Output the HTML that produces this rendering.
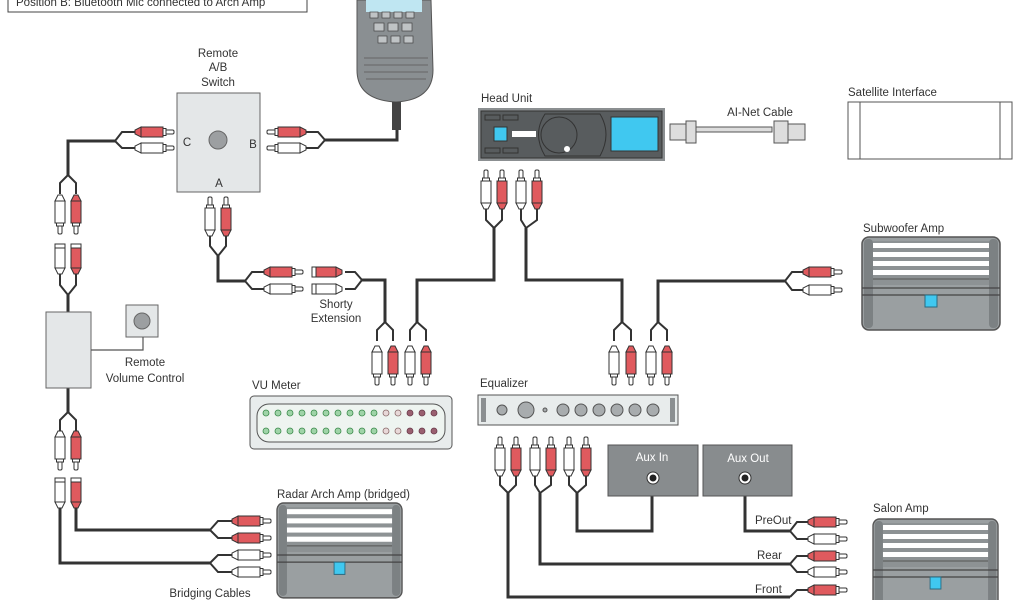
<!DOCTYPE html>
<html><head><meta charset="utf-8"><style>
html,body{margin:0;padding:0;background:#fff;}
svg{display:block;font-family:"Liberation Sans",sans-serif;}
text{fill:#333;font-size:11.5px;}
</style></head><body>
<svg width="1024" height="600" viewBox="0 0 1024 600" xmlns="http://www.w3.org/2000/svg">
<defs>
<symbol id="pu" overflow="visible">
 <rect x="-2" y="0" width="4" height="9" rx="1.5" fill="#fff" stroke="#333" stroke-width="1"/>
 <rect x="-3.5" y="8" width="7" height="3" fill="#fff" stroke="#333" stroke-width="1"/>
 <rect x="-5" y="11" width="10" height="22" stroke="#333" stroke-width="1"/>
 <polygon points="-5,33 5,33 2,39 -2,39" stroke="#333" stroke-width="1"/>
</symbol>
<symbol id="fu" overflow="visible">
 <rect x="-5" y="0" width="10" height="4" fill="#fff" stroke="#333" stroke-width="1"/>
 <rect x="-5" y="4" width="10" height="20" stroke="#333" stroke-width="1"/>
 <polygon points="-5,24 5,24 2,30 -2,30" stroke="#333" stroke-width="1"/>
</symbol>
<symbol id="amp" overflow="visible">
 <rect x="0" y="0" width="138" height="93" rx="7" fill="#9a9fa1" stroke="#555" stroke-width="1.5"/>
 <rect x="2" y="2" width="9" height="89" rx="4" fill="#7c8183"/>
 <rect x="127" y="2" width="9" height="89" rx="4" fill="#7c8183"/>
 <rect x="11" y="4" width="116" height="44" fill="#8d9294"/>
 <rect x="11" y="6" width="116" height="5" fill="#fff"/>
 <rect x="11" y="15" width="116" height="5" fill="#fff"/>
 <rect x="11" y="24" width="116" height="5" fill="#fff"/>
 <rect x="11" y="33" width="116" height="5" fill="#fff"/>
 <line x1="11" y1="42" x2="127" y2="42" stroke="#555" stroke-width="1"/>
 <line x1="0" y1="51" x2="138" y2="51" stroke="#444" stroke-width="1.2"/>
 <line x1="0" y1="58" x2="138" y2="58" stroke="#444" stroke-width="1.2"/>
 <rect x="63" y="58" width="12" height="12" fill="#40c8f0" stroke="#2a6a80" stroke-width="1"/>
</symbol>
</defs>

<rect x="8" y="-3" width="299" height="15" fill="#fff" stroke="#444" stroke-width="1"/>
<text x="16" y="6" font-size="12">Position B: Bluetooth Mic connected to Arch Amp</text>

<path d="M357,0 L431,0 L433,70 Q433,100 396,102 Q357,100 357,70 Z" fill="#8a8f92" stroke="#555"/>
<rect x="366" y="0" width="56" height="12" fill="#bfe6f2"/>
<g fill="#bfc3c5" stroke="#444" stroke-width="0.7">
<rect x="370" y="12" width="8" height="6"/><rect x="382" y="12" width="8" height="6"/><rect x="394" y="12" width="8" height="6"/><rect x="406" y="12" width="8" height="6"/>
<rect x="374" y="23" width="10" height="8"/><rect x="388" y="23" width="10" height="8"/><rect x="402" y="23" width="10" height="8"/>
<rect x="378" y="36" width="9" height="7"/><rect x="391" y="36" width="9" height="7"/><rect x="404" y="36" width="9" height="7"/>
</g>
<g stroke="#666" stroke-width="1"><line x1="364" y1="58" x2="428" y2="58"/><line x1="364" y1="65" x2="428" y2="65"/><line x1="364" y1="72" x2="428" y2="72"/><line x1="366" y1="79" x2="426" y2="79"/></g>
<rect x="392" y="102" width="9" height="28" fill="#444"/>
<g stroke="#333" stroke-width="3" fill="none">
<polyline points="397,130 397,140 325,140"/>
</g>

<text x="218" y="57" text-anchor="middle">Remote</text>
<text x="218" y="71" text-anchor="middle">A/B</text>
<text x="218" y="86" text-anchor="middle">Switch</text>
<rect x="177" y="93" width="83" height="99" fill="#e4e7e8" stroke="#666" stroke-width="1"/>
<circle cx="218" cy="140" r="9" fill="#9c9fa1" stroke="#666"/>
<text x="187" y="146" text-anchor="middle" font-size="12">C</text>
<text x="253" y="148" text-anchor="middle" font-size="12">B</text>
<text x="219" y="187" text-anchor="middle" font-size="12">A</text>

<g stroke="#333" stroke-width="3" fill="none" stroke-linejoin="miter">
<polyline points="115,141 68,141 68,175"/>
<polyline points="68,295 68,312"/>
<polyline points="68,388 68,412"/>
<polyline points="76,505 76,530 210,530"/>
<polyline points="60,505 60,563 210,563"/>
<polyline points="218,256 218,281 245,281"/>
<polyline points="362,280 385,280 385,322"/>
<polyline points="494,228 494,280 417,280 417,322"/>
<polyline points="526,228 526,280 622,280 622,322"/>
<polyline points="785,281 658,281 658,322"/>
<polyline points="508,493 508,597 790,597"/>
<polyline points="540,493 540,564 790,564"/>
<polyline points="577,493 577,531 652,531 652,496"/>
<polyline points="745,496 745,531 790,531"/>
</g>
<g stroke="#333" stroke-width="2" fill="none">
<polyline points="325,140 318,132 305,132"/><polyline points="325,140 318,148 305,148"/>
<polyline points="115,141 122,132 135,132"/><polyline points="115,141 122,148 135,148"/>
<polyline points="68,175 60,183 60,194"/><polyline points="68,175 76,183 76,194"/>
<polyline points="60,274 60,285 68,295"/><polyline points="76,274 76,285 68,295"/>
<polyline points="68,412 60,420 60,431"/><polyline points="68,412 76,420 76,431"/>
<polyline points="210,530 218,521 232,521"/><polyline points="210,530 218,538 232,538"/>
<polyline points="210,563 218,555 232,555"/><polyline points="210,563 218,572 232,572"/>
<polyline points="210,236 210,246 218,256"/><polyline points="226,236 226,246 218,256"/>
<polyline points="245,281 252,272 264,272"/><polyline points="245,281 252,289 264,289"/>
<polyline points="362,280 355,272 345,272"/><polyline points="362,280 355,289 345,289"/>
<polyline points="385,322 377,330 377,341"/><polyline points="385,322 393,330 393,341"/>
<polyline points="417,322 410,330 410,341"/><polyline points="417,322 426,330 426,341"/>
<polyline points="486,209 486,220 494,228"/><polyline points="502,209 502,220 494,228"/>
<polyline points="521,209 521,220 526,228"/><polyline points="537,209 537,220 526,228"/>
<polyline points="622,322 614,330 614,341"/><polyline points="622,322 631,330 631,341"/>
<polyline points="658,322 651,330 651,341"/><polyline points="658,322 667,330 667,341"/>
<polyline points="785,281 792,272 803,272"/><polyline points="785,281 792,290 803,290"/>
<polyline points="500,476 500,485 508,493"/><polyline points="516,476 516,485 508,493"/>
<polyline points="535,476 535,485 540,493"/><polyline points="551,476 551,485 540,493"/>
<polyline points="569,476 569,485 577,493"/><polyline points="586,476 586,485 577,493"/>
<polyline points="790,531 797,522 808,522"/><polyline points="790,531 797,539 808,539"/>
<polyline points="790,564 797,556 808,556"/><polyline points="790,564 797,572 808,572"/>
<polyline points="790,597 797,590 808,590"/>
</g>

<use href="#pu" transform="translate(267,132) rotate(-90)" fill="#e05a5e"/>
<use href="#pu" transform="translate(267,148) rotate(-90)" fill="#fff"/>
<use href="#pu" transform="translate(174,132) rotate(90)" fill="#e05a5e"/>
<use href="#pu" transform="translate(174,148) rotate(90)" fill="#fff"/>
<use href="#pu" transform="translate(60,234) rotate(180)" fill="#fff"/>
<use href="#pu" transform="translate(76,234) rotate(180)" fill="#e05a5e"/>
<use href="#fu" transform="translate(60,244)" fill="#fff"/>
<use href="#fu" transform="translate(76,244)" fill="#e05a5e"/>
<rect x="46" y="312" width="45" height="76" fill="#e4e7e8" stroke="#666"/>
<rect x="126" y="305" width="32" height="32" fill="#e4e7e8" stroke="#666"/>
<circle cx="142" cy="321" r="8" fill="#9c9fa1" stroke="#666"/>
<polyline points="91,350 143,350 143,337" stroke="#555" stroke-width="1.2" fill="none"/>
<text x="145" y="366" text-anchor="middle">Remote</text>
<text x="145" y="382" text-anchor="middle">Volume Control</text>
<use href="#pu" transform="translate(60,470) rotate(180)" fill="#fff"/>
<use href="#pu" transform="translate(76,470) rotate(180)" fill="#e05a5e"/>
<use href="#fu" transform="translate(60,478)" fill="#fff"/>
<use href="#fu" transform="translate(76,478)" fill="#e05a5e"/>
<use href="#pu" transform="translate(271,521) rotate(90)" fill="#e05a5e"/>
<use href="#pu" transform="translate(271,538) rotate(90)" fill="#e05a5e"/>
<use href="#pu" transform="translate(271,555) rotate(90)" fill="#fff"/>
<use href="#pu" transform="translate(271,572) rotate(90)" fill="#fff"/>
<use href="#pu" transform="translate(210,197)" fill="#fff"/>
<use href="#pu" transform="translate(226,197)" fill="#e05a5e"/>
<use href="#pu" transform="translate(303,272) rotate(90)" fill="#e05a5e"/>
<use href="#pu" transform="translate(303,289) rotate(90)" fill="#fff"/>
<use href="#fu" transform="translate(312,272) rotate(-90)" fill="#e05a5e"/>
<use href="#fu" transform="translate(312,289) rotate(-90)" fill="#fff"/>
<text x="336" y="308" text-anchor="middle">Shorty</text>
<text x="336" y="322" text-anchor="middle">Extension</text>
<use href="#pu" transform="translate(377,385) rotate(180)" fill="#fff"/>
<use href="#pu" transform="translate(393,385) rotate(180)" fill="#e05a5e"/>
<use href="#pu" transform="translate(410,385) rotate(180)" fill="#fff"/>
<use href="#pu" transform="translate(426,385) rotate(180)" fill="#e05a5e"/>
<use href="#pu" transform="translate(486,170)" fill="#fff"/>
<use href="#pu" transform="translate(502,170)" fill="#e05a5e"/>
<use href="#pu" transform="translate(521,170)" fill="#fff"/>
<use href="#pu" transform="translate(537,170)" fill="#e05a5e"/>
<use href="#pu" transform="translate(614,385) rotate(180)" fill="#fff"/>
<use href="#pu" transform="translate(631,385) rotate(180)" fill="#e05a5e"/>
<use href="#pu" transform="translate(651,385) rotate(180)" fill="#fff"/>
<use href="#pu" transform="translate(667,385) rotate(180)" fill="#e05a5e"/>
<use href="#pu" transform="translate(842,272) rotate(90)" fill="#e05a5e"/>
<use href="#pu" transform="translate(842,290) rotate(90)" fill="#fff"/>
<use href="#pu" transform="translate(500,437)" fill="#fff"/>
<use href="#pu" transform="translate(516,437)" fill="#e05a5e"/>
<use href="#pu" transform="translate(535,437)" fill="#fff"/>
<use href="#pu" transform="translate(551,437)" fill="#e05a5e"/>
<use href="#pu" transform="translate(569,437)" fill="#fff"/>
<use href="#pu" transform="translate(586,437)" fill="#e05a5e"/>
<use href="#pu" transform="translate(847,522) rotate(90)" fill="#e05a5e"/>
<use href="#pu" transform="translate(847,539) rotate(90)" fill="#fff"/>
<use href="#pu" transform="translate(847,556) rotate(90)" fill="#e05a5e"/>
<use href="#pu" transform="translate(847,572) rotate(90)" fill="#fff"/>
<use href="#pu" transform="translate(847,590) rotate(90)" fill="#e05a5e"/>

<text x="277" y="498">Radar Arch Amp (bridged)</text>
<use href="#amp" transform="translate(277,503) scale(0.906,1.02)"/>
<text x="210" y="597" text-anchor="middle">Bridging Cables</text>

<text x="481" y="102">Head Unit</text>
<rect x="478" y="108" width="187" height="53" fill="#8b8f91"/>
<rect x="481" y="111" width="181" height="47" fill="#585c5e" stroke="#333"/>
<g fill="none" stroke="#333" stroke-width="1">
<rect x="485" y="115" width="15" height="5"/><rect x="503" y="115" width="15" height="5"/>
<rect x="485" y="148" width="15" height="5"/><rect x="503" y="148" width="15" height="5"/>
<path d="M545,114 L600,114 Q612,134 600,156 L545,156 Q532,134 545,114 Z"/>
</g>
<circle cx="559" cy="135" r="18" fill="#585c5e" stroke="#333"/>
<circle cx="567" cy="149" r="3" fill="#fff"/>
<rect x="494" y="127" width="13" height="14" fill="#40c8f0" stroke="#333"/>
<rect x="512" y="131" width="24" height="6" fill="#fff"/>
<rect x="611" y="117" width="47" height="34" fill="#40c8f0" stroke="#333"/>
<text x="760" y="116" text-anchor="middle">AI-Net Cable</text>
<rect x="690" y="127" width="82" height="5" fill="#ddd" stroke="#555"/>
<rect x="670" y="124" width="16" height="16" fill="#ddd" stroke="#555"/>
<rect x="686" y="121" width="10" height="22" fill="#ddd" stroke="#555"/>
<rect x="774" y="121" width="14" height="22" fill="#ddd" stroke="#555"/>
<rect x="788" y="124" width="17" height="16" fill="#ddd" stroke="#555"/>
<text x="848" y="96">Satellite Interface</text>
<rect x="848" y="102" width="164" height="57" fill="#fff" stroke="#555"/>
<line x1="860" y1="102" x2="860" y2="159" stroke="#555"/>
<line x1="1000" y1="102" x2="1000" y2="159" stroke="#555"/>
<text x="863" y="232">Subwoofer Amp</text>
<use href="#amp" transform="translate(862,237)"/>

<text x="252" y="389">VU Meter</text>
<rect x="250" y="396" width="202" height="53" rx="4" fill="#e8ecec" stroke="#555"/>
<rect x="257" y="404" width="188" height="38" rx="12" fill="#eef4f0" stroke="#555"/>
<g stroke-width="0.8">
<g fill="#9fd4a8" stroke="#3a8a4a">
<circle cx="266" cy="413" r="3"/><circle cx="278" cy="413" r="3"/><circle cx="290" cy="413" r="3"/><circle cx="302" cy="413" r="3"/><circle cx="314" cy="413" r="3"/><circle cx="326" cy="413" r="3"/><circle cx="338" cy="413" r="3"/><circle cx="350" cy="413" r="3"/><circle cx="362" cy="413" r="3"/><circle cx="374" cy="413" r="3"/>
<circle cx="266" cy="431" r="3"/><circle cx="278" cy="431" r="3"/><circle cx="290" cy="431" r="3"/><circle cx="302" cy="431" r="3"/><circle cx="314" cy="431" r="3"/><circle cx="326" cy="431" r="3"/><circle cx="338" cy="431" r="3"/><circle cx="350" cy="431" r="3"/><circle cx="362" cy="431" r="3"/><circle cx="374" cy="431" r="3"/>
</g>
<g fill="#e8d8d8" stroke="#8a6a6a">
<circle cx="386" cy="413" r="3"/><circle cx="398" cy="413" r="3"/><circle cx="386" cy="431" r="3"/><circle cx="398" cy="431" r="3"/>
</g>
<g fill="#9a6070" stroke="#6a3a4a">
<circle cx="410" cy="413" r="3"/><circle cx="422" cy="413" r="3"/><circle cx="434" cy="413" r="3"/><circle cx="410" cy="431" r="3"/><circle cx="422" cy="431" r="3"/><circle cx="434" cy="431" r="3"/>
</g>
</g>

<text x="480" y="387">Equalizer</text>
<rect x="478" y="395" width="200" height="30" fill="#e8ecec" stroke="#555"/>
<rect x="481" y="398" width="5" height="24" fill="#8b8f91"/>
<rect x="670" y="398" width="5" height="24" fill="#8b8f91"/>
<g fill="#a8acae" stroke="#555">
<circle cx="502" cy="410" r="5"/><circle cx="526" cy="410" r="8"/><circle cx="545" cy="410" r="2"/>
<circle cx="563" cy="410" r="6"/><circle cx="581" cy="410" r="6"/><circle cx="599" cy="410" r="6"/><circle cx="617" cy="410" r="6"/><circle cx="635" cy="410" r="6"/><circle cx="653" cy="410" r="6"/>
</g>

<rect x="608" y="445" width="90" height="51" fill="#888c8e" stroke="#555"/>
<rect x="703" y="445" width="89" height="51" fill="#888c8e" stroke="#555"/>
<text x="652" y="461" text-anchor="middle" style="fill:#fff">Aux In</text>
<text x="748" y="462" text-anchor="middle" style="fill:#fff">Aux Out</text>
<circle cx="653" cy="478" r="6" fill="#fff" stroke="#333"/><circle cx="653" cy="478" r="3.5" fill="#222"/>
<circle cx="745" cy="478" r="6" fill="#fff" stroke="#333"/><circle cx="745" cy="478" r="3.5" fill="#222"/>
<text x="755" y="524">PreOut</text>
<text x="757" y="559">Rear</text>
<text x="755" y="593">Front</text>

<text x="873" y="512">Salon Amp</text>
<use href="#amp" transform="translate(873,519) scale(0.906,1)"/>
</svg>
</body></html>
